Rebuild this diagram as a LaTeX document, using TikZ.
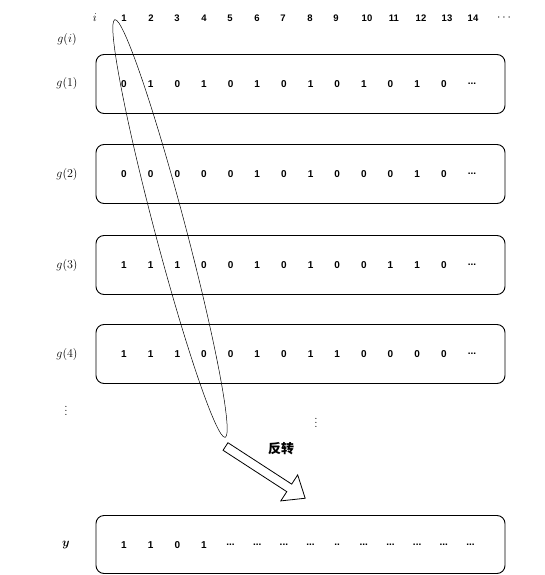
\documentclass[tikz,border=0pt]{standalone}
\usepackage{amsmath,bm}
\usepackage{fontspec}
\setsansfont{Liberation Sans}
\newfontfamily\cjk{Noto Sans CJK SC}
\newcommand{\ddd}{...}
\newcommand{\dd}{..}
\begin{document}
\begin{tikzpicture}[x=1pt,y=-1pt,
  rowbox/.style={draw,line width=0.9pt,rounded corners=8pt},
  val/.style={font=\sffamily\bfseries\fontsize{10}{12}\selectfont,inner sep=0pt},
  hdr/.style={font=\sffamily\bfseries\fontsize{9.5}{11}\selectfont,inner sep=0pt},
  lbl/.style={font=\fontsize{12}{14}\selectfont,inner sep=0pt}]
\useasboundingbox (0,0) rectangle (545,575);
% header
\node[lbl] (hi) at (95,18) {$i$};
\foreach \n/\x in {1/124,2/151,3/177,4/204,5/230,6/257,7/283,8/310,9/336,10/367,11/394,12/421,13/447,14/473}
  \node[hdr] (h\n) at (\x,18) {\n};
\node[lbl] (hdots) at (505,18) {$\cdots$};
\node[lbl] (gi) at (67,40) {$g(i)$};
% rows
\foreach \r/\yy/\vals in {1/84/{0,1,0,1,0,1,0,1,0,1,0,1,0},2/174/{0,0,0,0,0,1,0,1,0,0,0,1,0},3/265/{1,1,1,0,0,1,0,1,0,0,1,1,0},4/354/{1,1,1,0,0,1,0,1,1,0,0,0,0}}{
  \draw[rowbox] (96,\yy-29.5) rectangle (505,\yy+29.5);
  \node[lbl] (g\r) at (67,\yy) {$g(\r)$};
  \foreach \v [count=\k] in \vals
    \node[val] (v\r-\k) at (124+26.65*\k-26.65,\yy) {\v};
  \node[val] (v\r-dots) at (472,\yy) {\ddd};
}
\node[lbl] (ldots) at (66,408) {$\vdots$};
\node[lbl] (cdots) at (316,420) {$\vdots$};
% y row
\draw[rowbox] (96,515.5) rectangle (505,573.5);
\node[lbl] (ylab) at (66,545) {$\bm{y}$};
\foreach \v [count=\k] in {1,1,0,1,\ddd,\ddd,\ddd,\ddd,\dd,\ddd,\ddd,\ddd,\ddd,\ddd}
  \node[val] (y\k) at (124+26.65*\k-26.65,545) {\v};
% ellipse
\draw[line width=0.5pt,rotate around={-75.2:(170,228.5)}] (170,228.5) ellipse (216 and 15.5);
% block arrow
\begin{scope}[shift={(225.5,446.5)},rotate=-33]
\draw[line width=0.8pt,fill=white] (0,-4.5) -- (76,-4.5) -- (76,-15.5) -- (95,0) -- (76,15.5) -- (76,4.5) -- (0,4.5) -- cycle;
\end{scope}
\node[font=\cjk\bfseries\fontsize{13}{15}\selectfont,inner sep=0pt] (fz) at (281,449) {反转};
\end{tikzpicture}
\end{document}
